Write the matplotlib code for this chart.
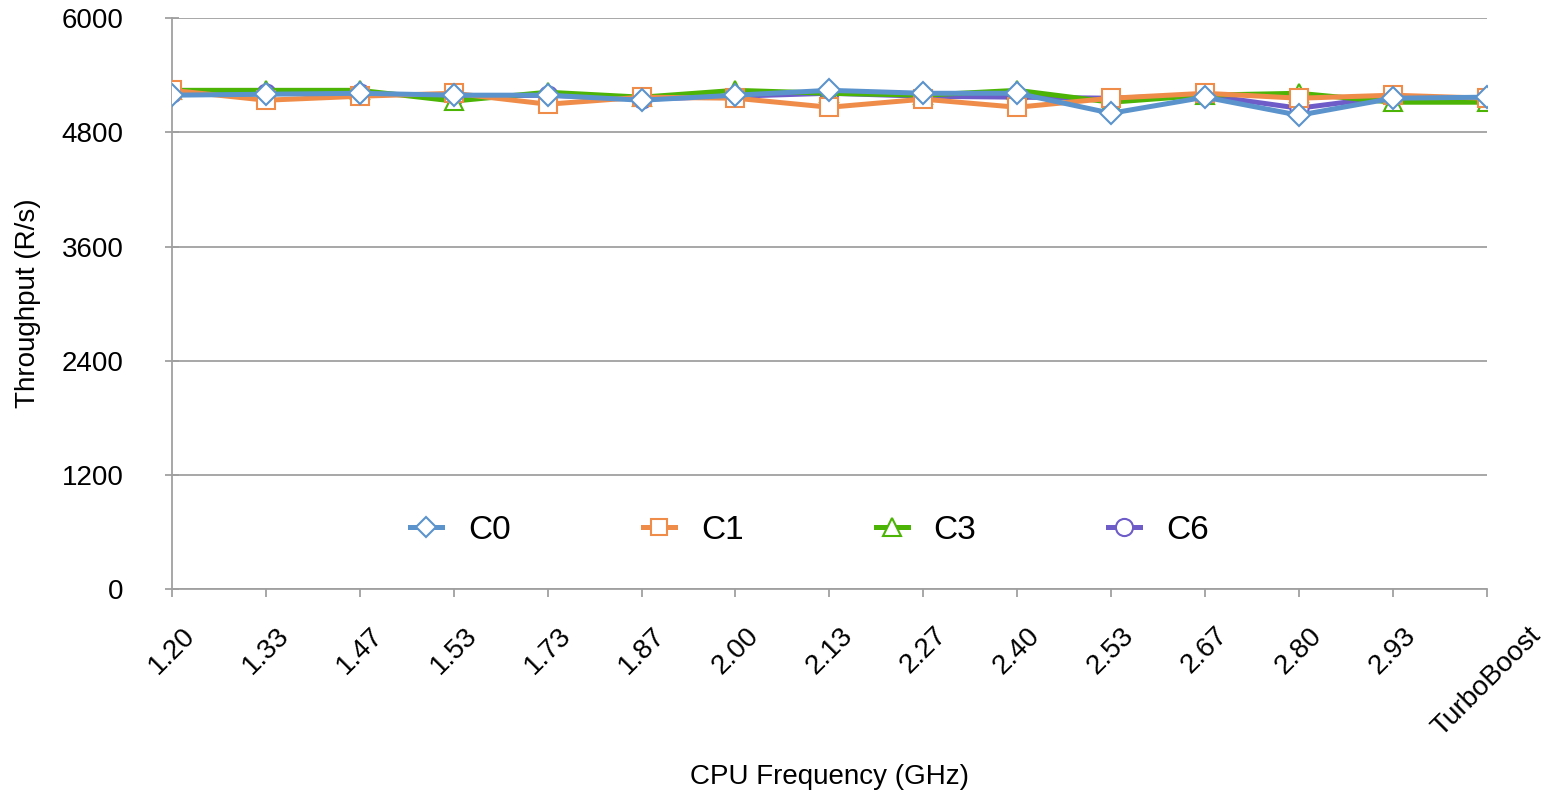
import matplotlib
matplotlib.use("Agg")
import matplotlib.pyplot as plt

plt.rcParams['font.family'] = ['Liberation Sans', 'DejaVu Sans']

categories = ["1.20", "1.33", "1.47", "1.53", "1.73", "1.87", "2.00", "2.13",
              "2.27", "2.40", "2.53", "2.67", "2.80", "2.93", "TurboBoost"]
c0 = [5192, 5202, 5212, 5192, 5192, 5139, 5192, 5243, 5212, 5212, 5002, 5171, 4981, 5160, 5171]
c1 = [5243, 5139, 5181, 5212, 5097, 5171, 5160, 5065, 5150, 5065, 5160, 5212, 5160, 5192, 5160]
c3 = [5243, 5243, 5243, 5130, 5223, 5171, 5243, 5212, 5192, 5243, 5118, 5192, 5212, 5118, 5118]
c6 = [5212, 5212, 5212, 5181, 5192, 5150, 5181, 5212, 5181, 5171, 5160, 5192, 5055, 5181, 5150]
yticks = [0, 1200, 2400, 3600, 4800, 6000]

series = [
    ("C0", c0, "#5B93CD", "D", 11),
    ("C1", c1, "#F08C4A", "s", 12.5),
    ("C3", c3, "#4CB405", "^", 13),
    ("C6", c6, "#6E5CC9", "o", 13),
]

fig = plt.figure(figsize=(15.54, 7.97), dpi=100)
ax = fig.add_axes([0.1107, 0.261, 0.846, 0.716])
x = list(range(len(categories)))
zorders = {"C0": 6, "C1": 5, "C3": 4, "C6": 3}
handles = []
for name, vals, col, mk, ms in series:
    h, = ax.plot(x, vals, color=col, lw=3.6, marker=mk, ms=ms, mfc="white",
                 mec=col, mew=1.5, label=name, zorder=zorders[name])
    handles.append(h)

ax.set_xlim(0, len(categories) - 1)
ax.set_ylim(0, 6000)
ax.set_yticks(yticks)
ax.set_yticklabels([str(v) for v in yticks], fontsize=20)
ax.set_xticks(x)
ax.set_xticklabels(categories, rotation=45, ha="center", va="top", fontsize=20)
ax.yaxis.grid(True, color="#A0A0A0", lw=1.3)
ax.set_axisbelow(True)
for s in ["top", "right"]:
    ax.spines[s].set_visible(False)
for s in ["left", "bottom"]:
    ax.spines[s].set_color("#A0A0A0")
    ax.spines[s].set_linewidth(1.3)
ax.tick_params(axis="y", color="#A0A0A0", length=10, width=1.3, direction="inout", pad=30)
ax.tick_params(axis="x", color="#A0A0A0", length=6, width=1.3, direction="out", pad=18)

ax.set_xlabel("CPU Frequency (GHz)", fontsize=20, va="center")
ax.xaxis.set_label_coords(0.5, -(777 - 589) / 571)
ax.set_ylabel("Throughput (R/s)", fontsize=20, va="center")
ax.yaxis.set_label_coords(-(172 - 28) / 1315, 0.5)

ax.legend(handles=handles, loc="center", bbox_to_anchor=(0.485, 0.103), ncol=4,
          frameon=False, fontsize=24, columnspacing=3.96, handlelength=0.96,
          handletextpad=0.78, markerscale=0.95)

fig.savefig("out.png", dpi=100)
